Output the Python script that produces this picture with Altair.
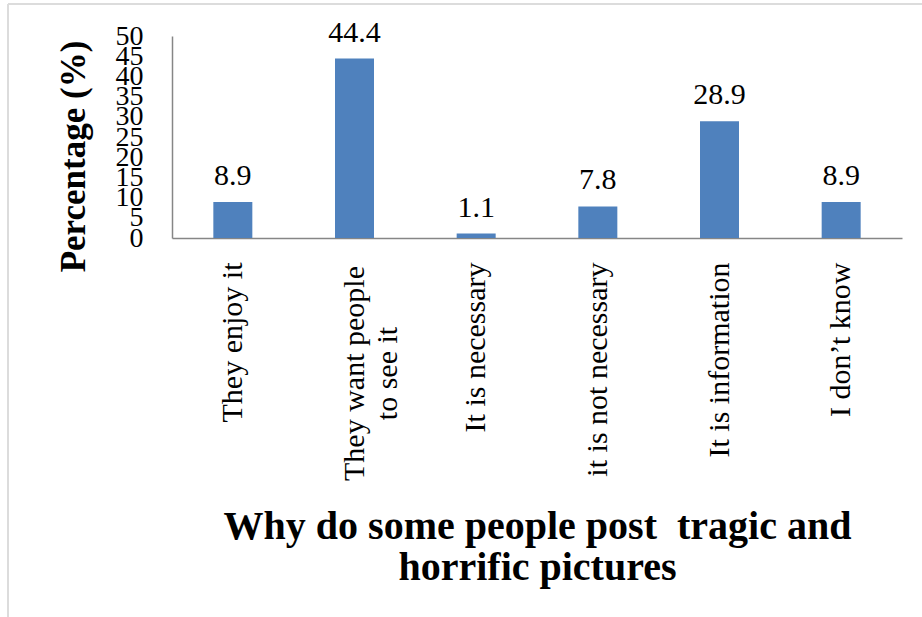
import altair as alt
import pandas as pd

categories = [
    "They enjoy it",
    "They want people\nto see it",
    "It is necessary",
    "it is not necessary",
    "It is information",
    "I don\u2019t know",
]
values = [8.9, 44.4, 1.1, 7.8, 28.9, 8.9]
y_ticks = [0, 5, 10, 15, 20, 25, 30, 35, 40, 45, 50]

df = pd.DataFrame({"reason": categories, "pct": values})
df["lbl"] = [f"{v:.1f}" for v in values]

FONT = "Liberation Serif"
W, H = 730, 202

x_enc = alt.X(
    "reason:N",
    sort=categories,
    scale=alt.Scale(paddingInner=0.68, paddingOuter=0.34),
    axis=alt.Axis(
        title=["Why do some people post \u00a0tragic and", "horrific pictures"],
        titleFont=FONT,
        titleFontSize=40,
        titleFontWeight="bold",
        titleColor="black",
        titleLineHeight=41,
        titleX=365,
        titleY=288,
        titleAlign="center",
        titleBaseline="middle",
        labelExpr="split(datum.label, '\\n')",
        labelAngle=-90,
        labelAlign={"condition": {"test": "indexof(datum.label, 'people') >= 0", "value": "center"}, "value": "right"},
        labelPadding={"condition": {"test": "indexof(datum.label, 'people') >= 0", "value": 135}, "value": 24},
        labelBaseline="middle",
        labelFont=FONT,
        labelFontSize=30,
        labelLineHeight=33,
        labelColor="black",
        labelLimit=0,
        ticks=False,
        domainColor="#868686",
        domainWidth=1.5,
    ),
)

y_enc = alt.Y(
    "pct:Q",
    scale=alt.Scale(domain=[0, 50], nice=False),
    axis=alt.Axis(
        title="Percentage (%)",
        titleFont=FONT,
        titleFontSize=35,
        titleFontWeight="bold",
        titleColor="black",
        titleAngle=270,
        titleX=-99,
        titleY=120,
        titleAlign="center",
        titleBaseline="middle",
        values=y_ticks,
        labelFont=FONT,
        labelFontSize=28,
        labelColor="black",
        labelPadding=29,
        labelOverlap=False,
        labelFlush=False,
        labelBound=False,
        ticks=False,
        grid=False,
        domainColor="#868686",
        domainWidth=1.5,
    ),
)

base = alt.Chart(df).encode(x=x_enc, y=y_enc)

bars = base.mark_bar(color="#4F81BD", size=39)

texts = base.mark_text(
    font=FONT, fontSize=30, color="black", baseline="alphabetic", dy=-17
).encode(text="lbl:N")

frame_data = alt.Data(values=[{"k": 1}])
frame_top = alt.Chart(frame_data).mark_rule(color="#dcdcdc", strokeWidth=2).encode(
    x=alt.value(-164), x2=alt.value(760), y=alt.value(-32)
)
frame_left = alt.Chart(frame_data).mark_rule(color="#dcdcdc", strokeWidth=2).encode(
    x=alt.value(-164), y=alt.value(-32), y2=alt.value(590)
)

chart = (
    alt.layer(bars, texts, frame_top, frame_left)
    .properties(
        width=W,
        height=H,
        padding={"left": 172, "top": 36, "right": 20, "bottom": 379},
        autosize=alt.AutoSizeParams(type="none"),
        background="white",
    )
    .configure_view(stroke=None)
    .configure_axisY(labelOverlap=False)
)

chart.save("out.html", embed_options={"renderer": "svg", "actions": False})
